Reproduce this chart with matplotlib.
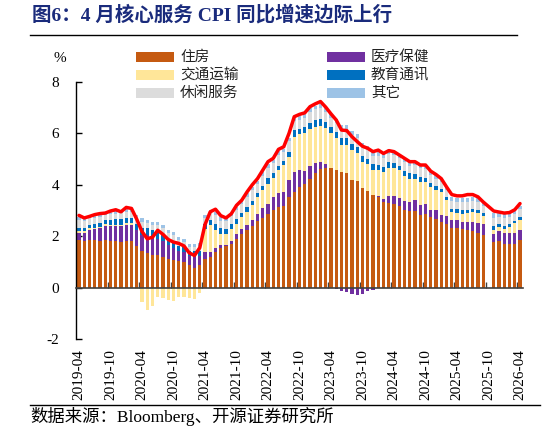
import numpy as np
import pandas as pd
import matplotlib
matplotlib.use("Agg")
import matplotlib.pyplot as plt
from matplotlib.lines import Line2D
from matplotlib.patches import Rectangle

plt.rcParams['font.family'] = ['Liberation Serif', 'Noto Sans CJK SC']
plt.rcParams['axes.unicode_minus'] = False

# months 2019-04 .. 2026-04, 2025-10 missing (None)
months = [p.strftime('%Y-%m') for p in pd.period_range('2019-04', '2026-04', freq='M')]

housing = [1.86, 1.81, 1.87, 1.87, 1.80, 1.87, 1.80, 1.80, 1.78, 1.80, 1.80, 1.63,
           1.41, 1.36, 1.27, 1.25, 1.21, 1.10, 1.08, 1.02, 0.98, 0.86, 0.75, 0.89,
           1.11, 1.18, 1.38, 1.54, 1.61, 1.70, 1.90, 2.07, 2.26, 2.41, 2.59, 2.71,
           2.85, 3.00, 3.14, 3.18, 3.53, 3.72, 3.92, 4.02, 4.24, 4.46, 4.61, 4.67,
           4.64, 4.57, 4.48, 4.44, 4.18, 4.14, 3.89, 3.76, 3.59, 3.53, 3.33, 3.29,
           3.27, 3.16, 3.03, 2.99, 2.97, 2.84, 2.85, 2.75, 2.66, 2.55, 2.48, 2.32,
           2.32, 2.29, 2.23, 2.20, 2.12, 2.03, None, 1.77, 1.80, 1.70, 1.68, 1.70, 1.87]
medical = [0.27, 0.32, 0.36, 0.40, 0.50, 0.53, 0.58, 0.58, 0.60, 0.62, 0.62, 0.62,
           0.64, 0.67, 0.72, 0.65, 0.62, 0.54, 0.48, 0.39, 0.40, 0.37, 0.46, 0.34,
           0.27, 0.20, 0.17, 0.10, 0.06, 0.13, 0.19, 0.22, 0.16, 0.23, 0.29, 0.39,
           0.42, 0.53, 0.56, 0.54, 0.65, 0.78, 0.65, 0.52, 0.48, 0.37, 0.26, 0.12,
           0.03, -0.05, -0.13, -0.18, -0.25, -0.30, -0.25, -0.15, -0.08, 0.03, 0.12, 0.26,
           0.28, 0.32, 0.34, 0.34, 0.42, 0.39, 0.42, 0.28, 0.35, 0.29, 0.29, 0.31,
           0.30, 0.26, 0.34, 0.37, 0.40, 0.46, None, 0.33, 0.40, 0.44, 0.44, 0.42, 0.38]
transport = [0.07, 0.07, 0.07, 0.06, 0.06, 0.07, 0.06, 0.07, 0.07, 0.08, 0.08, -0.05,
             -0.57, -0.87, -0.70, -0.38, -0.42, -0.50, -0.53, -0.38, -0.38, -0.40, -0.46, -0.21,
             0.91, 1.04, 0.68, 0.45, 0.42, 0.46, 0.39, 0.45, 0.52, 0.56, 0.65, 0.69,
             0.78, 0.75, 0.87, 1.04, 0.91, 1.37, 1.39, 1.46, 1.45, 1.43, 1.43, 1.41,
             1.33, 1.24, 1.07, 1.11, 1.17, 1.08, 1.00, 1.03, 0.98, 1.01, 1.03, 1.12,
             1.12, 1.09, 0.97, 0.91, 0.82, 0.88, 0.84, 0.89, 0.78, 0.88, 0.64, 0.31,
             0.30, 0.33, 0.33, 0.37, 0.38, 0.28, None, 0.16, 0.16, 0.15, 0.24, 0.39, 0.39]
education = [0.13, 0.13, 0.13, 0.13, 0.15, 0.15, 0.20, 0.20, 0.22, 0.22, 0.22, 0.22,
             0.27, 0.27, 0.25, 0.27, 0.25, 0.25, 0.25, 0.22, 0.20, 0.20, 0.20, 0.20,
             0.20, 0.22, 0.26, 0.22, 0.20, 0.20, 0.20, 0.18, 0.20, 0.18, 0.15, 0.18,
             0.20, 0.18, 0.18, 0.18, 0.20, 0.25, 0.22, 0.25, 0.25, 0.27, 0.27, 0.25,
             0.25, 0.25, 0.27, 0.27, 0.25, 0.25, 0.25, 0.22, 0.22, 0.20, 0.20, 0.20,
             0.18, 0.18, 0.18, 0.20, 0.20, 0.18, 0.15, 0.15, 0.15, 0.12, 0.12, 0.13,
             0.13, 0.12, 0.12, 0.12, 0.12, 0.12, None, 0.12, 0.10, 0.10, 0.10, 0.10, 0.10]
leisure = [0.30, 0.28, 0.26, 0.26, 0.22, 0.22, 0.22, 0.22, 0.22, 0.22, 0.22, 0.25,
           0.25, 0.20, 0.20, 0.25, 0.25, 0.22, 0.22, 0.22, 0.20, 0.15, 0.17, 0.20,
           0.22, 0.25, 0.35, 0.30, 0.30, 0.30, 0.35, 0.35, 0.40, 0.40, 0.35, 0.38,
           0.40, 0.40, 0.40, 0.35, 0.40, 0.35, 0.35, 0.35, 0.40, 0.40, 0.42, 0.40,
           0.35, 0.35, 0.35, 0.35, 0.35, 0.35, 0.35, 0.35, 0.35, 0.35, 0.35, 0.32,
           0.32, 0.30, 0.35, 0.30, 0.35, 0.35, 0.35, 0.33, 0.30, 0.27, 0.28, 0.30,
           0.30, 0.32, 0.32, 0.32, 0.30, 0.30, None, 0.33, 0.30, 0.30, 0.28, 0.25, 0.30]
other = [0.13, 0.12, 0.12, 0.12, 0.12, 0.12, 0.12, 0.12, 0.12, 0.12, 0.12, 0.12,
         0.15, 0.12, 0.12, 0.12, 0.12, 0.12, 0.12, 0.12, 0.12, 0.10, 0.10, 0.10,
         0.12, 0.12, 0.12, 0.12, 0.12, 0.12, 0.12, 0.12, 0.13, 0.15, 0.13, 0.15,
         0.15, 0.12, 0.15, 0.12, 0.15, 0.15, 0.15, 0.15, 0.15, 0.15, 0.15, 0.15,
         0.15, 0.15, 0.15, 0.15, 0.15, 0.15, 0.15, 0.15, 0.15, 0.15, 0.15, 0.13,
         0.13, 0.13, 0.13, 0.13, 0.13, 0.13, 0.13, 0.13, 0.13, 0.13, 0.13, 0.15,
         0.15, 0.15, 0.15, 0.15, 0.15, 0.12, None, 0.20, 0.18, 0.18, 0.15, 0.15, 0.15]
core_services = [2.81, 2.71, 2.77, 2.84, 2.88, 2.90, 2.98, 3.03, 2.95, 3.12, 3.08, 2.66,
                 2.18, 1.90, 1.96, 2.23, 2.07, 1.87, 1.77, 1.72, 1.62, 1.35, 1.25, 1.55,
                 2.45, 2.95, 3.05, 2.80, 2.71, 2.87, 3.20, 3.40, 3.72, 4.00, 4.24, 4.57,
                 4.90, 5.03, 5.38, 5.48, 6.00, 6.65, 6.74, 6.80, 7.04, 7.15, 7.24, 7.02,
                 6.76, 6.52, 6.13, 6.11, 5.87, 5.68, 5.50, 5.42, 5.29, 5.35, 5.22, 5.33,
                 5.29, 5.16, 5.03, 4.90, 4.90, 4.77, 4.77, 4.53, 4.40, 4.24, 3.92, 3.62,
                 3.57, 3.57, 3.62, 3.62, 3.53, 3.33, None, 2.98, 2.94, 2.90, 2.92, 3.03, 3.27]

series = [('住房', housing, '#C55A11'),
          ('医疗保健', medical, '#7030A0'),
          ('交通运输', transport, '#FFE699'),
          ('教育通讯', education, '#0070C0'),
          ('休闲服务', leisure, '#DCDCDC'),
          ('其它', other, '#9DC3E6')]

x = np.arange(len(months))
valid = ~np.isnan(np.array(housing, dtype=float))

fig = plt.figure(figsize=(5.46, 4.33), dpi=100)
ax = fig.add_axes([76/546, 1-339/433, 447/546, 257/433])

# stacked bars, positives up from 0 and negatives down from 0
pos_bottom = np.zeros(len(x))
neg_bottom = np.zeros(len(x))
for name, vals, color in series:
    v = np.nan_to_num(np.array(vals, dtype=float))
    bottom = np.where(v >= 0, pos_bottom, neg_bottom)
    ax.bar(x[valid], v[valid], bottom=bottom[valid], width=0.65, color=color,
           linewidth=0, zorder=2)
    pos_bottom += np.where(v > 0, v, 0)
    neg_bottom += np.where(v < 0, v, 0)

line = np.array(core_services, dtype=float)
ok = ~np.isnan(line)
ax.plot(x[ok], line[ok], color='#FF0000', lw=2.5, zorder=4,
        solid_joinstyle='round', solid_capstyle='round')

ax.set_xlim(-0.57, 84.57)
ax.set_ylim(-2, 8)
ax.set_yticks([-2, 0, 2, 4, 6, 8])
ax.spines['top'].set_visible(False)
ax.spines['right'].set_visible(False)
ax.spines['bottom'].set_position(('data', 0))
ax.spines['bottom'].set_color('#404040')
ax.spines['bottom'].set_linewidth(1.2)
ax.spines['bottom'].set_zorder(3)
ax.spines['left'].set_linewidth(1.0)

ax.tick_params(axis='y', direction='in', length=4, width=1, labelsize=11, pad=12)
ax.set_xticks(x[::6])
ax.set_xticklabels(months[::6], rotation=90, fontsize=11)
ax.set_xticks(np.arange(5.5, 84, 6), minor=True)
ax.tick_params(axis='x', which='major', length=0, pad=44)
ax.tick_params(axis='x', which='minor', direction='in', length=4, width=1,
               color='#404040')

# title, rules, footer
fig.text(32/546, 1-15/433, '图6：4 月核心服务 CPI 同比增速边际上行', ha='left', va='center',
         fontsize=14, fontweight='bold', color='#1A2B7C')
fig.add_artist(Line2D([30/546, 517/546], [1-35/433, 1-35/433], color='black', lw=1))
fig.add_artist(Line2D([30/546, 540/546], [1-405/433, 1-405/433], color='black', lw=1))
fig.text(30/546, 1-417/433, '数据来源：Bloomberg、开源证券研究所', ha='left', va='center',
         fontsize=12.5, color='black')
fig.text(60/546, 1-59/433, '%', ha='center', va='center', fontsize=11)

# legend, two columns
legend_pos = [(136, 57), (327, 57), (136, 75), (327, 75), (136, 93), (327, 93)]
for (name, _, color), (px, py) in zip(series, legend_pos):
    fig.add_artist(Rectangle((px/546, 1-(py+4.5)/433), 38/546, 9/433,
                             transform=fig.transFigure, color=color, lw=0))
    fig.text((px+44)/546, 1-py/433, name, ha='left', va='center', fontsize=10.5,
             color='#222222')

fig.savefig('out.png', dpi=100)
